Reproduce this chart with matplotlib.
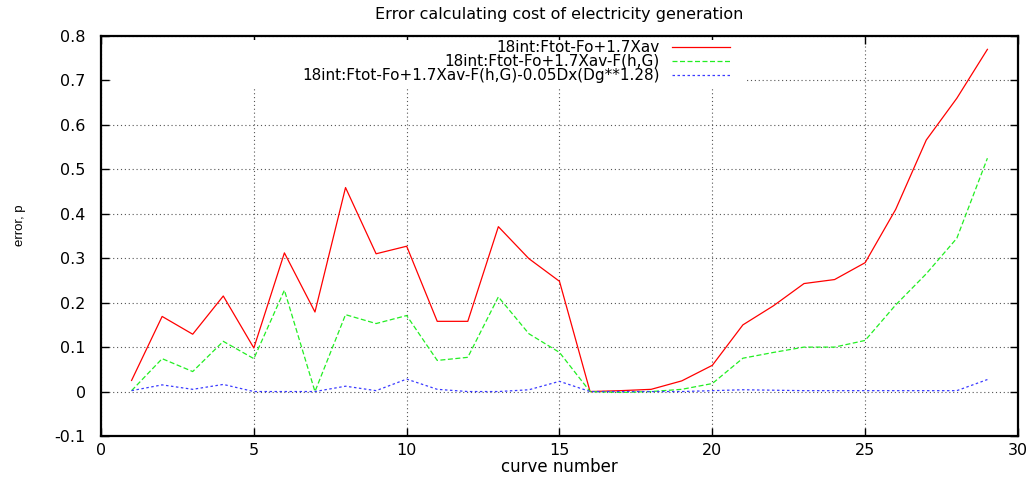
import matplotlib
matplotlib.use("Agg")
import matplotlib.pyplot as plt
from matplotlib.patches import Rectangle

plt.rcParams['font.family'] = ['DejaVu Sans']

curve = list(range(1, 30))
err_a = [0.025, 0.169, 0.129, 0.215, 0.098, 0.312, 0.179, 0.459, 0.310, 0.327,
         0.158, 0.158, 0.371, 0.299, 0.248, 0.0, 0.002, 0.005, 0.024, 0.059,
         0.150, 0.193, 0.243, 0.252, 0.290, 0.410, 0.566, 0.660, 0.770]
err_b = [0.002, 0.074, 0.045, 0.113, 0.074, 0.228, 0.0, 0.173, 0.153, 0.171,
         0.070, 0.077, 0.213, 0.130, 0.088, 0.0, -0.002, 0.0, 0.005, 0.018,
         0.075, 0.088, 0.100, 0.100, 0.115, 0.195, 0.265, 0.345, 0.525]
err_c = [0.002, 0.015, 0.005, 0.016, 0.0, 0.0, 0.0, 0.012, 0.002, 0.028,
         0.005, 0.0, 0.0, 0.004, 0.023, 0.0, 0.0, 0.0, 0.0, 0.002,
         0.004, 0.003, 0.002, 0.002, 0.002, 0.002, 0.002, 0.002, 0.027]
labels = ["18int:Ftot-Fo+1.7Xav",
          "18int:Ftot-Fo+1.7Xav-F(h,G)",
          "18int:Ftot-Fo+1.7Xav-F(h,G)-0.05Dx(Dg**1.28)"]
xticks = [0, 5, 10, 15, 20, 25, 30]
yticks = [-0.1, 0, 0.1, 0.2, 0.3, 0.4, 0.5, 0.6, 0.7, 0.8]
ytick_labels = ['-0.1', '0', '0.1', '0.2', '0.3', '0.4', '0.5', '0.6', '0.7', '0.8']

styles = [dict(color='#ff0000', ls='-'),
          dict(color='#22ee22', ls=(0, (4, 2))),
          dict(color='#3a3aff', ls=(0, (2, 2)))]

fig = plt.figure(figsize=(10.36, 4.79), dpi=100)
ax = fig.add_axes([0.0975, 0.0898, 0.8851, 0.835])

for y, st in zip([err_a, err_b, err_c], styles):
    ax.plot(curve, y, lw=0.9, zorder=3, **st)

ax.set_xlim(0, 30)
ax.set_ylim(-0.1, 0.8)
ax.set_xticks(xticks)
ax.set_yticks(yticks)
ax.set_xticklabels([str(v) for v in xticks])
ax.set_yticklabels(ytick_labels)
ax.tick_params(direction='in', length=6, width=1, top=True, right=True,
               labelsize=11.5)
ax.tick_params(axis='y', pad=11)
ax.tick_params(axis='x', pad=5)
ax.set_axisbelow(True)
ax.grid(True, color='#555555', ls=(0, (1, 2.5)), lw=0.8)
for s in ax.spines.values():
    s.set_linewidth(1.6)

# key area clears the grid behind it
ax.add_patch(Rectangle((0.012, 0.872), 0.693, 0.118, transform=ax.transAxes,
                       facecolor='white', edgecolor='none', zorder=1))

key_y = [0.9725, 0.9375, 0.9025]
for lab, st, yy in zip(labels, styles, key_y):
    ax.text(0.609, yy, lab, transform=ax.transAxes, ha='right', va='center',
            fontsize=11, zorder=4)
    ax.plot([0.623, 0.686], [yy, yy], transform=ax.transAxes, lw=0.9,
            zorder=4, **st)

ax.set_title("Error calculating cost of electricity generation", fontsize=11.5, pad=12)
ax.set_xlabel("curve number", fontsize=12, labelpad=0)
ax.set_ylabel("error, p", fontsize=9.5,
              family=['Liberation Sans Narrow', 'Liberation Sans'])
ax.yaxis.set_label_coords(-0.082, 0.5275)

fig.savefig("out.png", dpi=100)
